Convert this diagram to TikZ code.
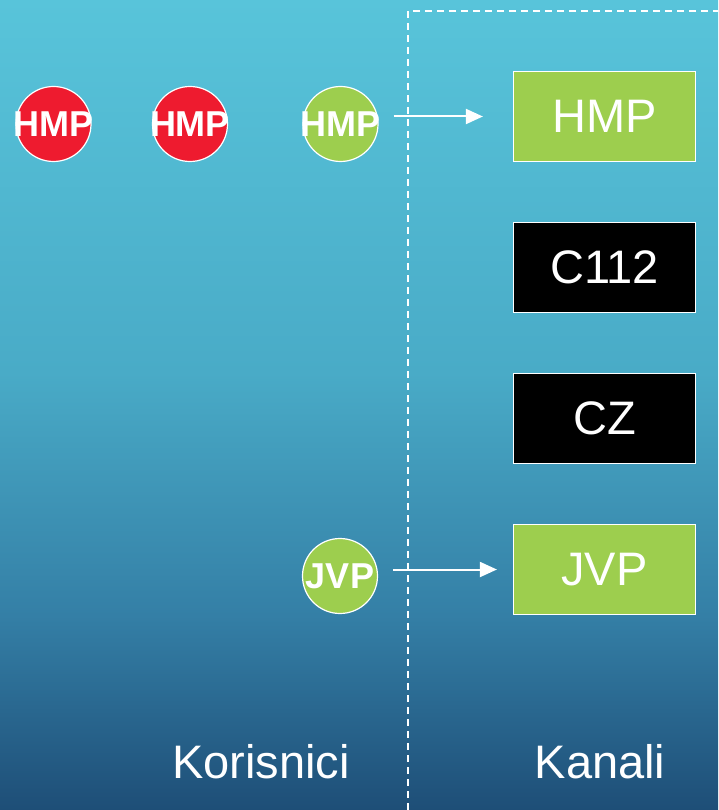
\documentclass[tikz,border=0pt]{standalone}
\usepackage{fontspec}
\setmainfont{Liberation Sans}
\usetikzlibrary{arrows.meta,calc}
\definecolor{bgtop}{HTML}{58C4DA}
\definecolor{bgmid}{HTML}{49ABC7}
\definecolor{bglow}{HTML}{347FA6}
\definecolor{bgbot}{HTML}{1E4E77}
\definecolor{hred}{HTML}{EE1B2F}
\definecolor{hgreen}{HTML}{9DCE4E}
\pgfdeclareverticalshading{bgshade}{100bp}{color(0bp)=(bgbot); color(25bp)=(bgbot); color(37bp)=(bglow); color(52bp)=(bgmid); color(75bp)=(bgtop); color(100bp)=(bgtop)}
\tikzset{
  user/.style={circle, draw=white, line width=1.2pt, minimum size=75pt, inner sep=0pt},
  utext/.style={text=white, font=\bfseries\fontsize{36}{36}\selectfont, inner sep=0pt},
  chan/.style={rectangle, draw=white, line width=1.2pt, minimum width=182pt, minimum height=90pt, inner sep=0pt, text=white, font=\fontsize{47}{47}\selectfont},
  lab/.style={text=white, font=\fontsize{47}{47}\selectfont, inner sep=0pt},
  flow/.style={draw=white, line width=2pt, -{Triangle[length=17pt,width=15pt]}},
  sep/.style={draw=white, line width=1.5pt, dash pattern=on 7pt off 5pt}
}
\begin{document}
\begin{tikzpicture}[x=1pt,y=-1pt]
\useasboundingbox (0,0) rectangle (718,810);
\shade[shading=bgshade] (0,0) rectangle (718,810);
\draw[sep] (408,810) -- (408,11) -- (718,11);
\node[user, fill=hred, label={[utext]center:HMP}] (u1) at (53.5,124) {};
\node[user, fill=hred, label={[utext]center:HMP}] (u2) at (190,124) {};
\node[user, fill=hgreen, label={[utext]center:HMP}] (u3) at (340.5,124) {};
\node[user, fill=hgreen, label={[utext]center:JVP}] (u4) at (340,576) {};
\node[chan, fill=hgreen] (c1) at (604.5,116.5) {HMP};
\node[chan, fill=black] (c2) at (604.5,267.5) {C112};
\node[chan, fill=black] (c3) at (604.5,418.5) {CZ};
\node[chan, fill=hgreen] (c4) at (604.5,569.5) {JVP};
\draw[flow] ([xshift=15pt]u3.east |- c1.west) -- ([xshift=-30pt]c1.west);
\draw[flow] ([xshift=15pt]u4.east |- c4.west) -- ([xshift=-16pt]c4.west);
\node[lab, anchor=base] (k1) at (261,778) {Korisnici};
\node[lab, anchor=base] (k2) at (600,778) {Kanali};
\end{tikzpicture}
\end{document}
